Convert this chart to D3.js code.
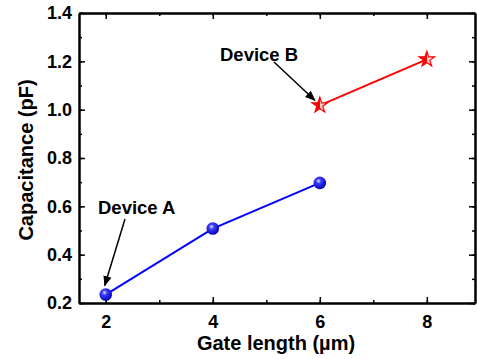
<!DOCTYPE html>
<html>
<head>
<meta charset="utf-8">
<script src="https://cdn.jsdelivr.net/npm/d3@7"></script>
<style>
  body { margin: 0; background: #fff; }
  text { font-family: "Liberation Sans", Arial, sans-serif; font-weight: bold; }
</style>
</head>
<body>
<svg id="chart" width="477" height="359"></svg>
<script>
// data
const deviceA = [[2, 0.235], [4, 0.508], [6, 0.697]];
const deviceB = [[6, 1.018], [8, 1.208]];
const xTicks = [2, 4, 6, 8];
const yTicks = [0.2, 0.4, 0.6, 0.8, 1.0, 1.2, 1.4];

const svg = d3.select("#chart");
const m = { left: 79, right: 2, top: 13, bottom: 56 };
const W = 477, H = 359;

const x = d3.scaleLinear().domain([1.5, 8.9]).range([m.left, W - m.right]);
const y = d3.scaleLinear().domain([0.2, 1.4]).range([H - m.bottom, m.top]);

const defs = svg.append("defs");
const ball = defs.append("radialGradient").attr("id", "ball")
  .attr("cx", "40%").attr("cy", "35%").attr("r", "65%");
ball.append("stop").attr("offset", "0%").attr("stop-color", "#e8e8ff");
ball.append("stop").attr("offset", "30%").attr("stop-color", "#4040ff");
ball.append("stop").attr("offset", "100%").attr("stop-color", "#0000b0");

const starFill = defs.append("linearGradient").attr("id", "starfill")
  .attr("x1", "0%").attr("x2", "100%");
starFill.append("stop").attr("offset", "50%").attr("stop-color", "red");
starFill.append("stop").attr("offset", "50%").attr("stop-color", "#ffd0d0");

defs.append("marker").attr("id", "arrow")
  .attr("viewBox", "0 0 10 10").attr("refX", 9).attr("refY", 5)
  .attr("markerWidth", 7).attr("markerHeight", 7).attr("orient", "auto")
  .append("path").attr("d", "M0,1 L10,5 L0,9 Z").attr("fill", "black");

// axes: bottom / left with labels, top / right as mirrors
const minorX = d3.range(2, 9, 1);
const minorY = d3.range(0.2, 1.41, 0.1);

function tickAxis(axisFn, scale, vals, size, labels) {
  return axisFn(scale).tickValues(vals).tickSizeInner(size).tickSizeOuter(0)
    .tickFormat(labels ? null : "");
}

const gB = svg.append("g").attr("transform", `translate(0,${H - m.bottom})`);
gB.call(tickAxis(d3.axisBottom, x, minorX, -3, false));
gB.append("g").call(tickAxis(d3.axisBottom, x, xTicks, -6, true).tickFormat(d3.format("d")).tickPadding(12));
const gT = svg.append("g").attr("transform", `translate(0,${m.top})`);
gT.call(tickAxis(d3.axisTop, x, minorX, -3, false));
gT.append("g").call(tickAxis(d3.axisTop, x, xTicks, -6, false));

const gL = svg.append("g").attr("transform", `translate(${m.left},0)`);
gL.call(tickAxis(d3.axisLeft, y, minorY, -3, false));
gL.append("g").call(tickAxis(d3.axisLeft, y, yTicks, -6, true).tickFormat(d3.format(".1f")).tickPadding(7));
const gR = svg.append("g").attr("transform", `translate(${W - m.right},0)`);
gR.call(tickAxis(d3.axisRight, y, minorY, -3, false));
gR.append("g").call(tickAxis(d3.axisRight, y, yTicks, -6, false));

svg.selectAll(".domain").attr("stroke", "black").attr("stroke-width", 2);
svg.selectAll(".tick line").attr("stroke", "black").attr("stroke-width", 1.5);
svg.selectAll(".tick text").attr("font-size", 18).attr("fill", "black")
  .attr("font-family", "Liberation Sans, Arial, sans-serif");

// axis titles
svg.append("text").attr("x", 276).attr("y", 350).attr("text-anchor", "middle")
  .attr("font-size", 20).text("Gate length (\u00b5m)");
svg.append("text").attr("transform", `translate(33,160) rotate(-90)`)
  .attr("text-anchor", "middle").attr("font-size", 20).text("Capacitance (pF)");

// series
const line = d3.line().x(d => x(d[0])).y(d => y(d[1]));
svg.append("path").datum(deviceA).attr("d", line)
  .attr("fill", "none").attr("stroke", "#0000ff").attr("stroke-width", 2);
svg.append("path").datum(deviceB).attr("d", line)
  .attr("fill", "none").attr("stroke", "#ff0000").attr("stroke-width", 2);

svg.selectAll(".ptA").data(deviceA).join("circle")
  .attr("cx", d => x(d[0])).attr("cy", d => y(d[1])).attr("r", 6.3)
  .attr("fill", "url(#ball)");

const star = d3.symbol().type(d3.symbolStar).size(75);
svg.selectAll(".ptB").data(deviceB).join("path")
  .attr("transform", d => `translate(${x(d[0])},${y(d[1])})`)
  .attr("d", star).attr("fill", "url(#starfill)")
  .attr("stroke", "red").attr("stroke-width", 1.2);

// annotations
svg.append("text").attr("x", 98).attr("y", 214).attr("font-size", 18.5).text("Device A");
svg.append("line").attr("x1", 125).attr("y1", 219).attr("x2", x(2) - 1).attr("y2", y(deviceA[0][1]) - 9)
  .attr("stroke", "black").attr("stroke-width", 1.5).attr("marker-end", "url(#arrow)");

svg.append("text").attr("x", 220).attr("y", 61).attr("font-size", 18.5).text("Device B");
svg.append("line").attr("x1", 274).attr("y1", 62).attr("x2", x(6) - 5).attr("y2", y(deviceB[0][1]) - 5)
  .attr("stroke", "black").attr("stroke-width", 1.5).attr("marker-end", "url(#arrow)");
</script>
</body>
</html>
